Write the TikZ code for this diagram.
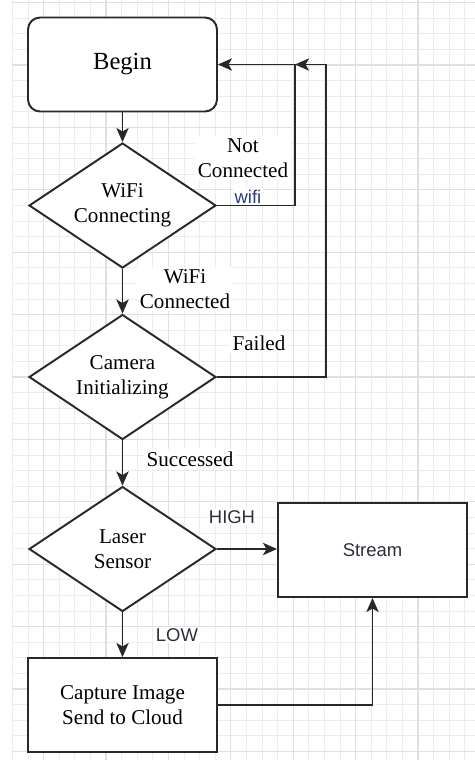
\documentclass[tikz,border=0pt]{standalone}
\usepackage{fontspec}
\setmainfont{Liberation Serif}
\setsansfont{Liberation Sans}
\usetikzlibrary{shapes.geometric,arrows.meta}

\begin{document}
\begin{tikzpicture}[x=0.02cm,y=-0.02cm,
  line/.style={draw=linegray,line width=1.1pt},
  arr/.style={line,-{Stealth[length=8pt,width=7pt,inset=2pt]}},
  decision/.style={diamond,line,fill=white,minimum width=3.74cm,minimum height=2.5cm,inner sep=0pt,aspect=1.5,align=center,font=\fontsize{12}{14.4}\selectfont},
  process/.style={rectangle,line,fill=white,minimum width=3.78cm,minimum height=1.88cm,align=center,font=\fontsize{12}{14.4}\selectfont},
  tag/.style={fill=white,inner sep=1.5pt,align=center,font=\fontsize{12}{14.4}\selectfont},
  sftag/.style={fill=white,inner sep=1pt,text=textgray,font=\sffamily\fontsize{10.5}{12}\selectfont}]
% Define colours
\definecolor{linegray}{RGB}{40,40,40}
\definecolor{textgray}{RGB}{45,45,60}
\definecolor{wifiblue}{RGB}{40,60,130}
\definecolor{gridminor}{RGB}{236,236,236}
\definecolor{gridmajor}{RGB}{224,224,224}

% Page and background grid
\useasboundingbox[fill=white] (0,0) rectangle (475,762);
\foreach \k in {0,...,29}
  \draw[gridminor,line width=0.5pt] (12.4+15.6*\k,0) -- (12.4+15.6*\k,760);
\foreach \k in {0,...,48}
  \draw[gridminor,line width=0.5pt] (12,2.6+15.6*\k) -- (475,2.6+15.6*\k);
\foreach \k in {2,6,...,26}
  \draw[gridmajor,line width=0.6pt] (12.4+15.6*\k,0) -- (12.4+15.6*\k,760);
\foreach \k in {0,4,...,48}
  \draw[gridmajor,line width=0.6pt] (12,2.6+15.6*\k) -- (475,2.6+15.6*\k);

% Draw blocks
\node[process,rounded corners=0.24cm,font=\fontsize{14}{16}\selectfont] (begin) at (122.5,64.5) {Begin};
\node[decision] (wifi) at (122.5,205.5) {WiFi\\Connecting};
\node[decision] (camera) at (122.5,377) {Camera\\Initializing};
\node[decision] (laser) at (122.5,549) {Laser\\Sensor};
\node[process] (stream) at (372.5,550) {\sffamily\fontsize{10.5}{12}\selectfont\color{textgray}Stream};
\node[process] (capture) at (122.5,705) {Capture Image\\Send to Cloud};

% Turning points of the loops
\coordinate (nc) at (295,64.5);
\coordinate (fl) at (326,64.5);

% Draw connectors
\draw[arr] (begin) -- (wifi);
\draw[arr] (wifi.east) -| (nc) -- (begin.east);
\draw[arr] (wifi) -- (camera);
\draw[arr] (camera.east) -| (fl) -- (nc);
\draw[arr] (camera) -- (laser);
\draw[arr] (laser.east) -- (stream.west |- laser.east);
\draw[arr] (laser) -- (capture);
\draw[arr] (capture.east) -| (stream.south);

% Add labels
\node[tag] (ncl) at (243,158) {Not\\Connected};
\node[sftag,text=wifiblue] (wfl) at (248,197) {wifi};
\node[tag] (wcl) at (185,289) {WiFi\\Connected};
\node[tag] (fll) at (259,343) {Failed};
\node[tag] (scl) at (190,459) {Successed};
\node[sftag] (hil) at (232,517) {HIGH};
\node[sftag] (lol) at (177,635) {LOW};
\end{tikzpicture}
\end{document}
